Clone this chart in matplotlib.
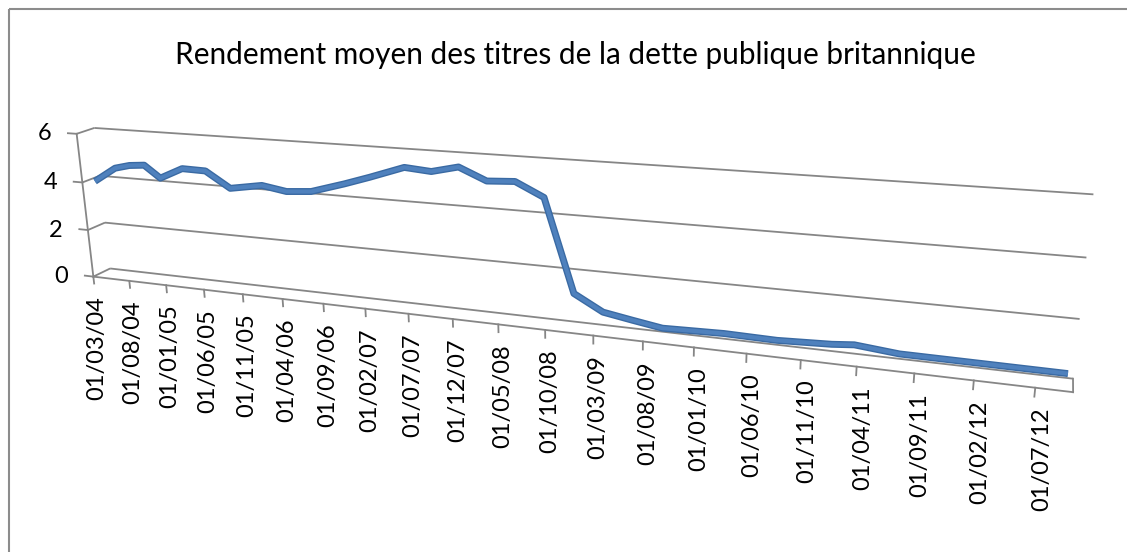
import numpy as np
import pandas as pd
import matplotlib
matplotlib.use("Agg")
import matplotlib.pyplot as plt
from matplotlib.transforms import Transform
from matplotlib.patches import Rectangle

# ---------------- data ----------------
title = "Rendement moyen des titres de la dette publique britannique"
first_month = "2004-03"
last_month = "2012-09"
tick_labels = ["01/03/04", "01/08/04", "01/01/05", "01/06/05", "01/11/05", "01/04/06",
               "01/09/06", "01/02/07", "01/07/07", "01/12/07", "01/05/08", "01/10/08",
               "01/03/09", "01/08/09", "01/01/10", "01/06/10", "01/11/10", "01/04/11",
               "01/09/11", "01/02/12", "01/07/12"]
tick_step = 5  # months between labels
point_dates = ["2004-03", "2004-06", "2004-08", "2004-10", "2004-12", "2005-03", "2005-06",
               "2005-09", "2006-01", "2006-04", "2006-07", "2006-11", "2007-02", "2007-06",
               "2007-09", "2007-12", "2008-03", "2008-06", "2008-09", "2008-12", "2009-03",
               "2009-06", "2009-09", "2010-03", "2010-08", "2011-01", "2011-03", "2011-07",
               "2012-09"]
point_values = [3.92, 4.54, 4.70, 4.76, 4.28, 4.74, 4.72,
                4.10, 4.32, 4.16, 4.24, 4.64, 4.97, 5.44,
                5.36, 5.60, 5.16, 5.22, 4.72, 1.28, 0.70,
                0.52, 0.35, 0.41, 0.38, 0.46, 0.53, 0.39,
                0.37]
y_ticks = [0, 2, 4, 6]

# ---------------- 3-D perspective (Excel-like) ----------------
months = pd.period_range(first_month, last_month, freq="M")
N = len(months)
start = pd.Period(first_month, freq="M")
px = np.array([(pd.Period(d, freq="M") - start).n + 0.5 for d in point_dates])

# camera calibration anchors: world (month, value, depth) -> image pixel
calib_world = np.array([
    (0, 0, 0), (0, 2, 0), (0, 6, 0), (0, 0, 1), (0, 2, 1), (0, 6, 1),
    (N, 0, 1), (N, 2, 1), (N, 4, 1), (N, 6, 1), (N, 0, 0),
    (20, 0, 0), (40, 0, 0), (55, 0, 0), (70, 0, 0), (90, 0, 0)], float)
calib_pix = np.array([
    (93, 275), (88.5, 228), (77, 133), (111, 268), (104, 224), (94, 129),
    (1073, 377), (1080, 318), (1087, 257), (1093, 195), (1073, 390),
    (243, 295), (408, 314), (545, 333), (694, 349), (914, 375)], float)


def fit_camera(W, P):
    Tw = np.diag([0.01, 1 / 6, 1.0, 1.0])
    Tp = np.array([[1 / 500, 0, -560 / 500], [0, 1 / 500, -270 / 500], [0, 0, 1]])
    Wn = (Tw @ np.column_stack([W, np.ones(len(W))]).T).T
    Pn = (Tp @ np.column_stack([P, np.ones(len(P))]).T).T
    A = []
    for (X, Y, Z, O), (u, v, _) in zip(Wn, Pn):
        A.append([X, Y, Z, O, 0, 0, 0, 0, -u * X, -u * Y, -u * Z, -u * O])
        A.append([0, 0, 0, 0, X, Y, Z, O, -v * X, -v * Y, -v * Z, -v * O])
    _, _, Vt = np.linalg.svd(np.array(A))
    Hn = Vt[-1].reshape(3, 4)
    return np.linalg.inv(Tp) @ Hn @ Tw


CAM = fit_camera(calib_world, calib_pix)


class PlaneProjection(Transform):
    """Maps 2-D coordinates lying on a plane of the 3-D chart box to image pixels."""
    input_dims = 2
    output_dims = 2
    is_separable = False
    has_inverse = False

    def __init__(self, to_world):
        super().__init__()
        self.to_world = to_world

    def transform_non_affine(self, values):
        v = np.asarray(values, float).reshape(-1, 2)
        X, Y, Z = self.to_world(v[:, 0], v[:, 1])
        H = CAM @ np.vstack([X, Y, Z, np.ones_like(X)])
        return np.column_stack([H[0] / H[2], H[1] / H[2]])


fig = plt.figure(figsize=(11.27, 5.52), dpi=100)
ax = fig.add_axes([0, 0, 1, 1])
ax.axis("off")

T_back = PlaneProjection(lambda a, b: (a, b, np.ones_like(a))) + ax.transData
T_front = PlaneProjection(lambda a, b: (a, b, np.zeros_like(a))) + ax.transData
T_mid = PlaneProjection(lambda a, b: (a, b, np.full_like(a, 0.5))) + ax.transData
T_left = PlaneProjection(lambda a, b: (np.zeros_like(a), b, a)) + ax.transData
T_right = PlaneProjection(lambda a, b: (np.full_like(a, N), b, a)) + ax.transData

grid_c = "#868686"
glw = 1.3
for yv in y_ticks:
    ax.plot([0, N], [yv, yv], color=grid_c, lw=glw, transform=T_back, solid_capstyle="butt")
    ax.plot([0, 1], [yv, yv], color=grid_c, lw=glw, transform=T_left, solid_capstyle="butt")
    ax.plot([-1.2, 0], [yv, yv], color=grid_c, lw=glw, transform=T_front)
    ax.annotate(str(yv), xy=(0, yv), xycoords=T_front, xytext=(-25, 0),
                textcoords="offset pixels", ha="right", va="center",
                fontsize=17, family="Lato", color="#000000")

# value axis, floor front edge, floor right edge
ax.plot([0, 0], [0, y_ticks[-1]], color=grid_c, lw=glw, transform=T_front)
ax.plot([0, N], [0, 0], color=grid_c, lw=glw, transform=T_front)
ax.plot([0, 1], [0, 0], color=grid_c, lw=glw, transform=T_right)

# category ticks and labels
for i, lab in enumerate(tick_labels):
    xt = i * tick_step
    ax.plot([xt, xt], [0, -0.3], color=grid_c, lw=glw, transform=T_front)
    ax.annotate(lab, xy=(xt + 0.5, 0), xycoords=T_front, xytext=(0, -19),
                textcoords="offset pixels", ha="center", va="top", rotation=90,
                fontsize=17, family="Lato", color="#000000")

# the series (3-D ribbon look)
ax.plot(px, point_values, color="#3A6AA3", lw=5.0, transform=T_mid,
        solid_joinstyle="round", solid_capstyle="butt", zorder=5)
ax.plot(px, point_values, color="#4F81BD", lw=3.0, transform=T_mid,
        solid_joinstyle="round", solid_capstyle="butt", zorder=6)

ax.set_xlim(0, 1127)
ax.set_ylim(552, 0)

# chart frame
ax.add_patch(Rectangle((8.5, 8.5), 1200, 700, fill=False, ec="#8C8C8C", lw=1.5))

fig.text(575 / 1127, 1 - 55 / 552, title, ha="center", va="center",
         fontsize=21.4, family="Lato", color="#000000")

fig.savefig("out.png", dpi=100)
